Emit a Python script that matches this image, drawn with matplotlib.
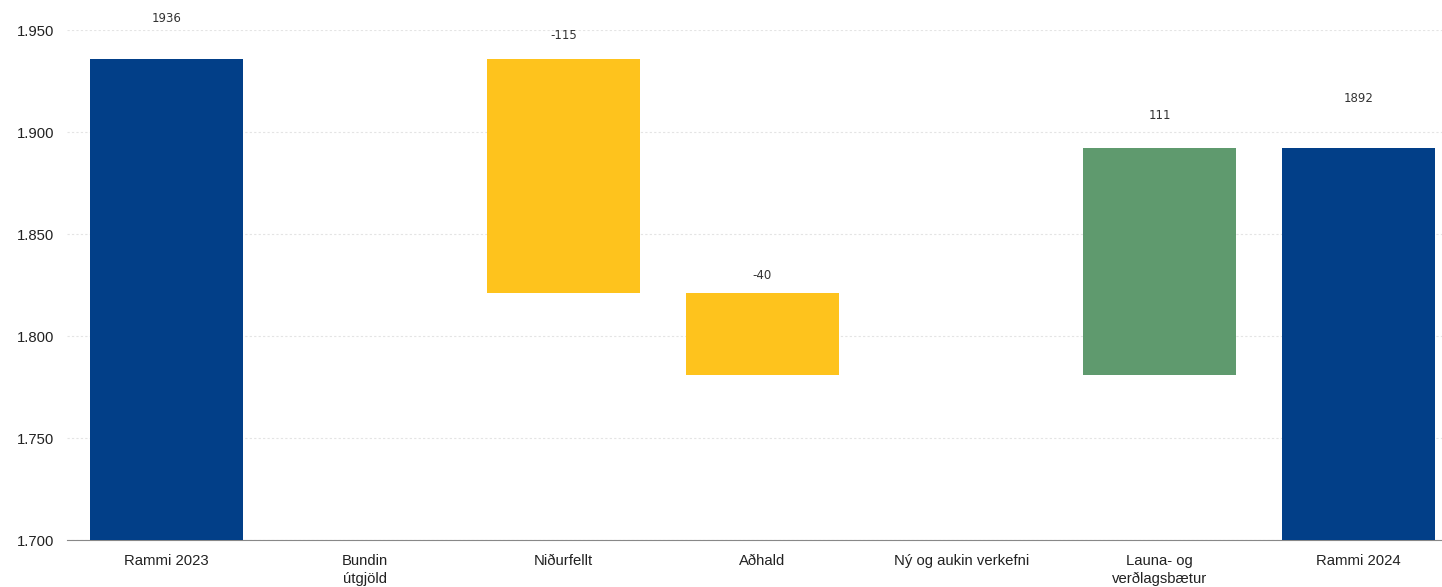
import matplotlib.pyplot as plt
import numpy as np

categories = ["Rammi 2023", "Bundin\nútgjöld", "Niðurfellt", "Aðhald",
              "Ný og aukin verkefni", "Launa- og\nverðlagsbætur", "Rammi 2024"]
changes = [1936, 0, -115, -40, 0, 111, 1892]
kinds = ["total", "step", "step", "step", "step", "step", "total"]
yticks = [1700, 1750, 1800, 1850, 1900, 1950]

navy = "#023f88"
yellow = "#fec31d"
green = "#5f9a6e"

# label offsets above bar top, in pixels (as placed in the original)
label_offsets = [40, 0, 23, 18, 0, 33, 50]

plt.rcParams['font.family'] = ['Liberation Sans', 'DejaVu Sans']

fig = plt.figure(figsize=(14.42, 5.87), dpi=100)
ax = fig.add_axes([67 / 1442, 47 / 587, 1 - 67 / 1442, (540 - 30) / 587])

x = np.arange(len(categories))
running = 0
for i, (v, k) in enumerate(zip(changes, kinds)):
    if k == "total":
        bottom, height, color = 0, v, navy
        running = v
    else:
        if v >= 0:
            bottom, height = running, v
        else:
            bottom, height = running + v, -v
        color = green if v > 0 else yellow
        running += v
    if height == 0:
        continue
    ax.bar(i, height, bottom=bottom, width=0.77, color=color, zorder=3)
    top = bottom + height
    ax.annotate(f"{v}", (i, top), xytext=(0, label_offsets[i]),
                textcoords='offset pixels', ha='center', va='center',
                fontsize=8.5, color='#333333', family='DejaVu Sans',
                annotation_clip=False)

ax.set_ylim(1700, 1950)
ax.set_xlim(-0.5, 6.42)
ax.set_yticks(yticks)
ax.set_yticklabels([f"{t:,}".replace(",", ".") for t in yticks])
ax.set_xticks(x)
ax.set_xticklabels(categories, linespacing=1.35)
ax.tick_params(axis='both', length=0, labelsize=10.7, colors='#222222')
ax.tick_params(axis='x', pad=10)
ax.tick_params(axis='y', pad=9)

ax.grid(axis='y', color='#e4e4e4', linestyle=(0, (2, 2)), linewidth=0.8, zorder=0)
for s in ['top', 'right', 'left']:
    ax.spines[s].set_visible(False)
ax.spines['bottom'].set_color('#888888')
ax.spines['bottom'].set_linewidth(0.8)

fig.savefig("out.png", dpi=100)
